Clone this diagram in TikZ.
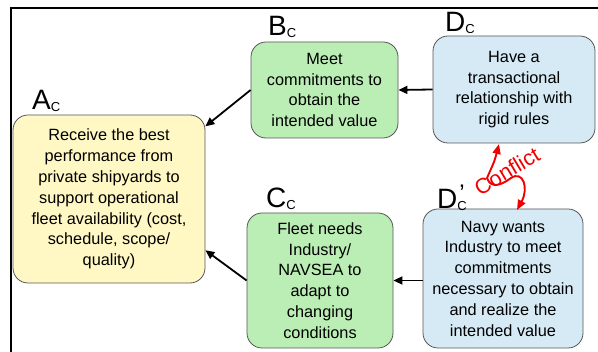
\documentclass[tikz,border=0pt]{standalone}
\usepackage{fontspec}
\setmainfont{Liberation Sans}
\usetikzlibrary{arrows.meta,calc}
\definecolor{boxyellow}{RGB}{255,248,196}
\definecolor{boxgreen}{RGB}{186,238,180}
\definecolor{boxblue}{RGB}{214,234,245}
\definecolor{boxline}{RGB}{85,85,85}
\definecolor{conflictred}{RGB}{240,0,0}
\tikzset{
  goalbox/.style={draw=boxline, line width=0.8pt, rounded corners=15pt,
    inner sep=0pt, align=center,
    font=\fontsize{16.3}{20.8}\selectfont},
  tag/.style={anchor=base west, inner sep=0pt,
    font=\fontsize{28}{30}\selectfont},
  arr/.style={line width=1.8pt, -{Triangle[length=9pt,width=8pt]}},
  clash/.style={conflictred, line width=1.9pt,
    {Triangle[length=10pt,width=8pt]}-{Triangle[length=10pt,width=8pt]}},
}
\newcommand{\tagsub}[1]{\raisebox{-2pt}{\fontsize{13}{14}\selectfont #1}}
\begin{document}
\begin{tikzpicture}[x=1pt,y=-1pt]
\useasboundingbox (0,0) rectangle (598,352);
% frame
\draw[line width=1.2pt] (11,352) -- (11,8) -- (598,8);

% boxes
\node[goalbox, fill=boxyellow, minimum width=192pt, minimum height=168pt] (A) at (109,199)
  {Receive the best\\performance from\\private shipyards to\\support operational\\fleet availability (cost,\\schedule, scope/\\quality)};
\node[goalbox, fill=boxgreen, minimum width=147pt, minimum height=96pt] (B) at (324.5,90)
  {Meet\\commitments to\\obtain the\\intended value};
\node[goalbox, fill=boxblue, minimum width=162pt, minimum height=107pt] (D) at (514,89.5)
  {Have a\\transactional\\relationship with\\rigid rules};
\node[goalbox, fill=boxgreen, minimum width=146pt, minimum height=135pt] (C) at (320,280.5)
  {Fleet needs\\Industry/\\NAVSEA to\\adapt to\\changing\\conditions};
\node[goalbox, fill=boxblue, minimum width=160pt, minimum height=139pt] (Dp) at (503,278.5)
  {Navy wants\\Industry to meet\\commitments\\necessary to obtain\\and realize the\\intended value};

% labels
\node[tag] (Alab) at (32,110) {A\tagsub{C}};
\node[tag] (Blab) at (268,36) {B\tagsub{C}};
\node[tag] (Dlab) at (445,32) {D\tagsub{C}};
\node[tag] (Clab) at (266,208) {C\tagsub{C}};
\node[tag] (Dplab) at (437,209) {D\tagsub{C}\hspace{-7.5pt}\raisebox{7pt}{\fontsize{24}{26}\selectfont ’}};

% connectors
\draw[arr] (D.west) -- (B.east);
\draw[arr] (B.west) -- (A.37);
\draw[arr] (C.east -| Dp.west) -- (C.east);
\draw[arr] (C.west) -- (A.-28);

% conflict
\coordinate (ctop) at (499,144);
\coordinate (cbot) at (517,210);
\draw[clash] (ctop) .. controls (495,160) .. (487,178)
  .. controls (491,190) and (503,184) .. (511,178)
  .. controls (523,170) and (529,188) .. (cbot);
\node[conflictred, rotate=31, inner sep=0pt, font=\fontsize{21.5}{22}\selectfont] (conf) at (507,171) {Conflict};
\end{tikzpicture}
\end{document}
